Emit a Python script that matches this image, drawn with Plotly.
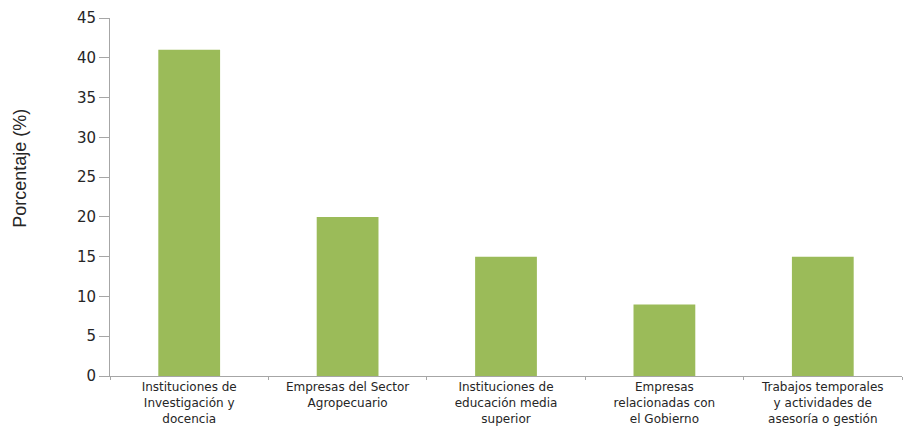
import plotly.graph_objects as go

categories = [
    "Instituciones de<br>Investigación y<br>docencia",
    "Empresas del Sector<br>Agropecuario",
    "Instituciones de<br>educación media<br>superior",
    "Empresas<br>relacionadas con<br>el Gobierno",
    "Trabajos temporales<br>y actividades de<br>asesoría o gestión",
]
values = [41, 20, 15, 9, 15]
y_ticks = [0, 5, 10, 15, 20, 25, 30, 35, 40, 45]
y_title = "Porcentaje (%)"

fig = go.Figure()
fig.add_trace(go.Bar(
    x=categories, y=values,
    marker=dict(color="#9BBB59", line=dict(width=0)),
))

fig.update_layout(
    width=924, height=430,
    margin=dict(l=110, r=22, t=18, b=54, autoexpand=False),
    paper_bgcolor="white", plot_bgcolor="white",
    bargap=0.61,
    showlegend=False,
    xaxis=dict(
        type="category", automargin=False,
        showline=True, linecolor="#a6a6a6", linewidth=1,
        ticks="outside", tickson="boundaries", ticklen=3, tickcolor="#a6a6a6",
        tickfont=dict(family="DejaVu Sans", size=12, color="#262626"),
        showgrid=False,
    ),
    yaxis=dict(
        range=[0, 45], automargin=False,
        tickvals=y_ticks,
        showline=True, linecolor="#a6a6a6", linewidth=1,
        ticks="outside", ticklen=10, tickcolor="#a6a6a6",
        tickfont=dict(family="DejaVu Sans", size=15, color="#262626"),
        showgrid=False, zeroline=False,
    ),
    annotations=[dict(
        text=y_title, textangle=-90,
        xref="paper", yref="paper",
        x=-0.1136, y=0.579, xanchor="center", yanchor="middle",
        showarrow=False,
        font=dict(family="Liberation Sans Narrow, Liberation Sans", size=18, color="#262626"),
    )],
)

fig.write_html("out.html")
